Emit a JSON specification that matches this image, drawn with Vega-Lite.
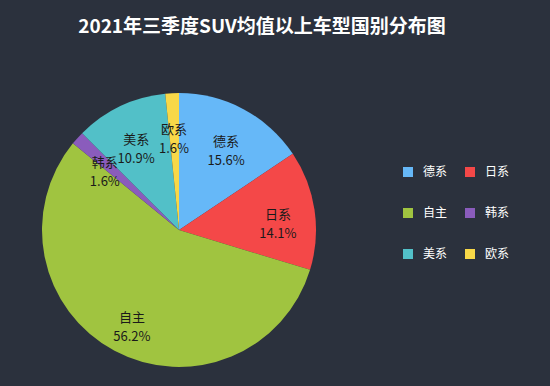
{
  "$schema": "https://vega.github.io/schema/vega-lite/v6.json",
  "width": 274,
  "height": 274,
  "autosize": {"type": "none"},
  "padding": {"left": 42, "top": 93, "right": 234, "bottom": 19},
  "background": "#2b313d",
  "title": {
    "text": "2021年三季度SUV均值以上车型国别分布图",
    "color": "#ffffff",
    "fontSize": 19,
    "fontWeight": "bold",
    "font": "Noto Sans CJK SC",
    "anchor": "middle",
    "dx": 83,
    "offset": 56
  },
  "data": {
    "values": [
      {"category": "德系", "share": 15.6, "order": 1},
      {"category": "日系", "share": 14.1, "order": 2},
      {"category": "自主", "share": 56.2, "order": 3},
      {"category": "韩系", "share": 1.6, "order": 4},
      {"category": "美系", "share": 10.9, "order": 5},
      {"category": "欧系", "share": 1.6, "order": 6}
    ]
  },
  "encoding": {
    "theta": {"field": "share", "type": "quantitative", "stack": true},
    "order": {"field": "order", "type": "quantitative"}
  },
  "layer": [
    {
      "mark": {"type": "arc", "outerRadius": 137},
      "encoding": {
        "color": {
          "field": "category",
          "type": "nominal",
          "scale": {
            "domain": ["德系", "日系", "自主", "韩系", "美系", "欧系"],
            "range": ["#66b8f8", "#f44848", "#a0c440", "#8a5cbc", "#52c0c8", "#f8d848"]
          },
          "legend": {
            "orient": "none",
            "direction": "horizontal",
            "legendX": 360,
            "legendY": 73,
            "columns": 2,
            "title": null,
            "symbolType": "square",
            "symbolSize": 100,
            "symbolStrokeWidth": 0,
            "labelColor": "#ffffff",
            "labelFontSize": 12,
            "labelFont": "Noto Sans CJK SC",
            "rowPadding": 29,
            "columnPadding": 16,
            "labelOffset": 9,
            "padding": 0
          }
        }
      }
    },
    {
      "transform": [
        {"calculate": "datum.category + '\\n' + format(datum.share, '.1f') + '%'", "as": "label"}
      ],
      "mark": {
        "type": "text",
        "radius": 100,
        "fontSize": 13,
        "font": "Noto Sans CJK SC",
        "color": "#1a1a1a",
        "lineBreak": "\n",
        "lineHeight": 19
      },
      "encoding": {
        "text": {"field": "label", "type": "nominal"}
      }
    }
  ],
  "view": {"stroke": null}
}
